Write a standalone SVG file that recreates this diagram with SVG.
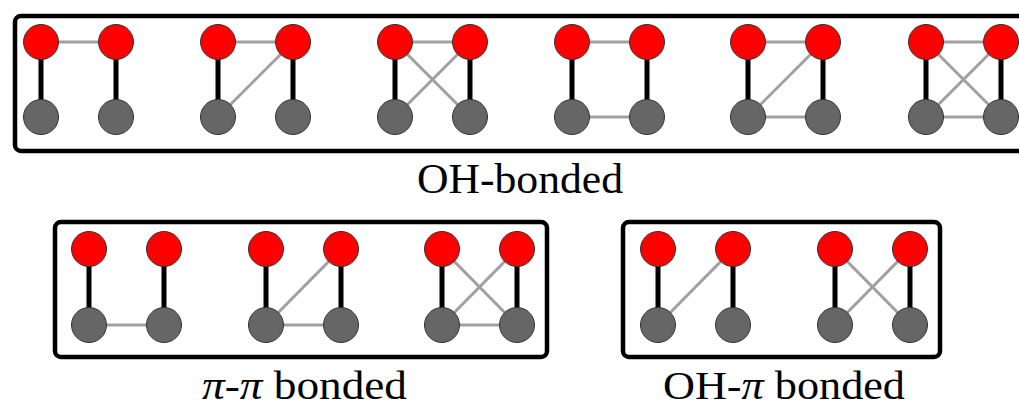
<svg xmlns="http://www.w3.org/2000/svg" width="1019" height="409" viewBox="0 0 1019 409">
<defs>
<style>
.box{fill:none;stroke:#000;stroke-width:4.5}
.bond{stroke:#000;stroke-width:5}
.hb{stroke:#a0a0a0;stroke-width:3}
.o{fill:#ff0000;stroke:#333;stroke-width:1}
.c{fill:#666;stroke:#333;stroke-width:1}
.lbl{font-family:"Liberation Serif","Times New Roman",serif;font-size:42px;fill:#000}
.lbl2{font-family:"Liberation Serif","Times New Roman",serif;font-size:40px;fill:#000}
</style>
</defs>
<rect width="1019" height="409" fill="#fff"/>
<g id="frames">
<rect class="box" x="15" y="16" width="1040" height="135" rx="6"/>
<rect class="box" x="55" y="222" width="492" height="135" rx="6"/>
<rect class="box" x="623" y="222" width="317" height="135" rx="6"/>
</g>
<g id="connectors">
<line class="hb" x1="41" y1="42" x2="116" y2="42"/>
<line class="bond" x1="41" y1="42" x2="41" y2="117"/>
<line class="bond" x1="116" y1="42" x2="116" y2="117"/>
<line class="hb" x1="218" y1="42" x2="293" y2="42"/>
<line class="hb" x1="218" y1="117" x2="293" y2="42"/>
<line class="bond" x1="218" y1="42" x2="218" y2="117"/>
<line class="bond" x1="293" y1="42" x2="293" y2="117"/>
<line class="hb" x1="395" y1="42" x2="470" y2="42"/>
<line class="hb" x1="395" y1="117" x2="470" y2="42"/>
<line class="hb" x1="395" y1="42" x2="470" y2="117"/>
<line class="bond" x1="395" y1="42" x2="395" y2="117"/>
<line class="bond" x1="470" y1="42" x2="470" y2="117"/>
<line class="hb" x1="572" y1="42" x2="647" y2="42"/>
<line class="hb" x1="572" y1="117" x2="647" y2="117"/>
<line class="bond" x1="572" y1="42" x2="572" y2="117"/>
<line class="bond" x1="647" y1="42" x2="647" y2="117"/>
<line class="hb" x1="748" y1="42" x2="823" y2="42"/>
<line class="hb" x1="748" y1="117" x2="823" y2="117"/>
<line class="hb" x1="748" y1="117" x2="823" y2="42"/>
<line class="bond" x1="748" y1="42" x2="748" y2="117"/>
<line class="bond" x1="823" y1="42" x2="823" y2="117"/>
<line class="hb" x1="926" y1="42" x2="1001" y2="42"/>
<line class="hb" x1="926" y1="117" x2="1001" y2="117"/>
<line class="hb" x1="926" y1="117" x2="1001" y2="42"/>
<line class="hb" x1="926" y1="42" x2="1001" y2="117"/>
<line class="bond" x1="926" y1="42" x2="926" y2="117"/>
<line class="bond" x1="1001" y1="42" x2="1001" y2="117"/>
<line class="hb" x1="89" y1="325" x2="164" y2="325"/>
<line class="bond" x1="89" y1="249" x2="89" y2="325"/>
<line class="bond" x1="164" y1="249" x2="164" y2="325"/>
<line class="hb" x1="266" y1="325" x2="341" y2="325"/>
<line class="hb" x1="266" y1="325" x2="341" y2="249"/>
<line class="bond" x1="266" y1="249" x2="266" y2="325"/>
<line class="bond" x1="341" y1="249" x2="341" y2="325"/>
<line class="hb" x1="442" y1="325" x2="517" y2="325"/>
<line class="hb" x1="442" y1="325" x2="517" y2="249"/>
<line class="hb" x1="442" y1="249" x2="517" y2="325"/>
<line class="bond" x1="442" y1="249" x2="442" y2="325"/>
<line class="bond" x1="517" y1="249" x2="517" y2="325"/>
<line class="hb" x1="658" y1="325" x2="733" y2="249"/>
<line class="bond" x1="658" y1="249" x2="658" y2="325"/>
<line class="bond" x1="733" y1="249" x2="733" y2="325"/>
<line class="hb" x1="835" y1="325" x2="910" y2="249"/>
<line class="hb" x1="835" y1="249" x2="910" y2="325"/>
<line class="bond" x1="835" y1="249" x2="835" y2="325"/>
<line class="bond" x1="910" y1="249" x2="910" y2="325"/>
</g>
<g id="oh1"><circle class="o" cx="41" cy="42" r="17.5"/><circle class="o" cx="116" cy="42" r="17.5"/><circle class="c" cx="41" cy="117" r="17.5"/><circle class="c" cx="116" cy="117" r="17.5"/></g>
<g id="oh2"><circle class="o" cx="218" cy="42" r="17.5"/><circle class="o" cx="293" cy="42" r="17.5"/><circle class="c" cx="218" cy="117" r="17.5"/><circle class="c" cx="293" cy="117" r="17.5"/></g>
<g id="oh3"><circle class="o" cx="395" cy="42" r="17.5"/><circle class="o" cx="470" cy="42" r="17.5"/><circle class="c" cx="395" cy="117" r="17.5"/><circle class="c" cx="470" cy="117" r="17.5"/></g>
<g id="oh4"><circle class="o" cx="572" cy="42" r="17.5"/><circle class="o" cx="647" cy="42" r="17.5"/><circle class="c" cx="572" cy="117" r="17.5"/><circle class="c" cx="647" cy="117" r="17.5"/></g>
<g id="oh5"><circle class="o" cx="748" cy="42" r="17.5"/><circle class="o" cx="823" cy="42" r="17.5"/><circle class="c" cx="748" cy="117" r="17.5"/><circle class="c" cx="823" cy="117" r="17.5"/></g>
<g id="oh6"><circle class="o" cx="926" cy="42" r="17.5"/><circle class="o" cx="1001" cy="42" r="17.5"/><circle class="c" cx="926" cy="117" r="17.5"/><circle class="c" cx="1001" cy="117" r="17.5"/></g>
<g id="pp1"><circle class="o" cx="89" cy="249" r="17.5"/><circle class="o" cx="164" cy="249" r="17.5"/><circle class="c" cx="89" cy="325" r="17.5"/><circle class="c" cx="164" cy="325" r="17.5"/></g>
<g id="pp2"><circle class="o" cx="266" cy="249" r="17.5"/><circle class="o" cx="341" cy="249" r="17.5"/><circle class="c" cx="266" cy="325" r="17.5"/><circle class="c" cx="341" cy="325" r="17.5"/></g>
<g id="pp3"><circle class="o" cx="442" cy="249" r="17.5"/><circle class="o" cx="517" cy="249" r="17.5"/><circle class="c" cx="442" cy="325" r="17.5"/><circle class="c" cx="517" cy="325" r="17.5"/></g>
<g id="op1"><circle class="o" cx="658" cy="249" r="17.5"/><circle class="o" cx="733" cy="249" r="17.5"/><circle class="c" cx="658" cy="325" r="17.5"/><circle class="c" cx="733" cy="325" r="17.5"/></g>
<g id="op2"><circle class="o" cx="835" cy="249" r="17.5"/><circle class="o" cx="910" cy="249" r="17.5"/><circle class="c" cx="835" cy="325" r="17.5"/><circle class="c" cx="910" cy="325" r="17.5"/></g>
<g id="labels">
<text class="lbl" x="417" y="193" textLength="206" lengthAdjust="spacingAndGlyphs">OH-bonded</text>
<text class="lbl2" x="202" y="399" textLength="205" lengthAdjust="spacingAndGlyphs"><tspan font-style="italic">π</tspan>-<tspan font-style="italic">π</tspan> bonded</text>
<text class="lbl2" x="663" y="399" textLength="242" lengthAdjust="spacingAndGlyphs">OH-<tspan font-style="italic">π</tspan> bonded</text>
</g>
</svg>
